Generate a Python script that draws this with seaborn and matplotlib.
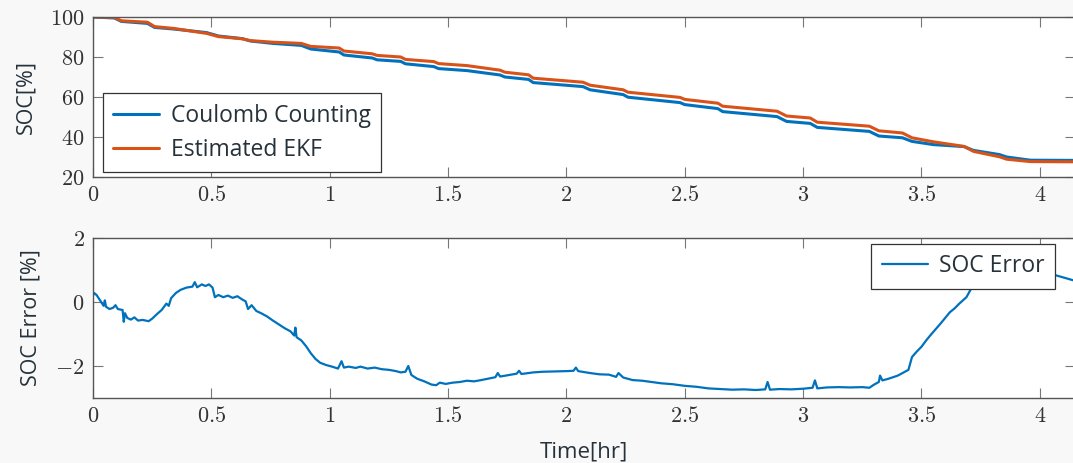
import numpy as np
import pandas as pd
import matplotlib
matplotlib.use("Agg")
import matplotlib.pyplot as plt
import matplotlib.ticker as mticker
import seaborn as sns

# SOC curves [%] vs time [hr]
cc_time = [0, 0.09, 0.12, 0.23, 0.26, 0.34, 0.48, 0.53, 0.63, 0.665, 0.76, 0.88, 0.92,
           1.04, 1.06, 1.18, 1.20, 1.30, 1.32, 1.44, 1.46, 1.58, 1.72, 1.74, 1.84, 1.86,
           2.07, 2.10, 2.24, 2.26, 2.48, 2.50, 2.64, 2.66, 2.89, 2.93, 3.03, 3.06, 3.28,
           3.32, 3.42, 3.46, 3.55, 3.68, 3.72, 3.83, 3.86, 3.96, 4.15]
cc_soc = [100, 99.5, 97.8, 96.8, 94.8, 94.0, 92.2, 90.5, 89.2, 88.0, 86.8, 85.8, 84.0,
          82.5, 81.0, 79.5, 78.6, 77.8, 76.6, 75.2, 74.2, 73.2, 71.0, 70.0, 68.8, 67.2,
          65.2, 63.6, 61.2, 59.9, 57.2, 56.2, 54.2, 52.7, 50.2, 47.8, 46.8, 44.8, 42.8,
          40.5, 39.6, 37.8, 36.2, 35.2, 33.3, 31.2, 30.0, 28.4, 28.3]
ekf_soc = [100, 99.8, 98.1, 97.4, 95.2, 94.3, 91.8, 90.2, 89.1, 88.2, 87.4, 86.8, 85.3,
           84.5, 83.0, 81.6, 80.8, 80.0, 78.8, 77.7, 76.7, 75.7, 73.4, 72.4, 71.1, 69.4,
           67.4, 65.9, 63.6, 62.4, 59.8, 58.8, 56.9, 55.4, 52.9, 50.5, 49.5, 47.4, 45.4,
           43.1, 42.0, 39.6, 37.6, 35.3, 32.8, 30.1, 28.9, 27.7, 27.6]

# SOC error [%]
err_time = [0.000, 0.005, 0.015, 0.030, 0.045, 0.050, 0.055, 0.070, 0.085, 0.095, 0.105,
            0.125, 0.130, 0.135, 0.145, 0.160, 0.175, 0.190, 0.210, 0.235, 0.250, 0.270,
            0.290, 0.310, 0.320, 0.330, 0.350, 0.370, 0.395, 0.420, 0.430, 0.440, 0.460,
            0.475, 0.490, 0.505, 0.515, 0.530, 0.550, 0.570, 0.590, 0.610, 0.630, 0.645,
            0.655, 0.670, 0.690, 0.710, 0.735, 0.760, 0.785, 0.810, 0.835, 0.850, 0.855,
            0.860, 0.880, 0.900, 0.920, 0.940, 0.960, 0.985, 1.010, 1.035, 1.050, 1.060,
            1.080, 1.110, 1.130, 1.160, 1.190, 1.220, 1.250, 1.280, 1.300, 1.320, 1.332,
            1.345, 1.370, 1.400, 1.430, 1.450, 1.465, 1.490, 1.520, 1.550, 1.580, 1.610,
            1.640, 1.680, 1.700, 1.710, 1.720, 1.760, 1.790, 1.800, 1.810, 1.860, 1.900,
            1.950, 2.000, 2.030, 2.040, 2.050, 2.100, 2.140, 2.180, 2.210, 2.220, 2.240,
            2.280, 2.320, 2.360, 2.400, 2.450, 2.500, 2.550, 2.600, 2.650, 2.700, 2.750,
            2.800, 2.840, 2.850, 2.860, 2.900, 2.950, 3.000, 3.040, 3.050, 3.060, 3.100,
            3.150, 3.200, 3.250, 3.280, 3.300, 3.320, 3.325, 3.335, 3.360, 3.380, 3.400,
            3.430, 3.445, 3.460, 3.480, 3.500, 3.520, 3.540, 3.560, 3.580, 3.600, 3.620,
            3.640, 3.660, 3.690, 3.720, 3.750, 3.780, 3.820, 3.900, 4.000, 4.065, 4.150]
err_soc = [0.20, 0.28, 0.22, 0.05, -0.12, 0.05, -0.15, -0.22, -0.18, -0.10, -0.22,
           -0.25, -0.62, -0.35, -0.50, -0.55, -0.48, -0.58, -0.56, -0.60, -0.52, -0.38,
           -0.25, -0.05, -0.12, 0.12, 0.28, 0.38, 0.45, 0.48, 0.62, 0.46, 0.55,
           0.50, 0.55, 0.45, 0.15, 0.22, 0.15, 0.20, 0.13, 0.18, 0.08, 0.02,
           -0.22, -0.10, -0.28, -0.35, -0.45, -0.58, -0.70, -0.82, -0.92, -1.05, -0.80,
           -1.10, -1.20, -1.38, -1.60, -1.78, -1.90, -1.97, -2.02, -2.08, -1.85, -2.05,
           -2.02, -2.06, -2.02, -2.08, -2.05, -2.10, -2.12, -2.16, -2.20, -2.18, -2.00,
           -2.28, -2.40, -2.48, -2.58, -2.60, -2.52, -2.56, -2.52, -2.50, -2.46, -2.48,
           -2.44, -2.38, -2.35, -2.22, -2.33, -2.28, -2.24, -2.15, -2.25, -2.20, -2.18,
           -2.17, -2.16, -2.15, -2.05, -2.16, -2.22, -2.26, -2.27, -2.34, -2.22, -2.36,
           -2.44, -2.46, -2.50, -2.54, -2.57, -2.62, -2.65, -2.70, -2.72, -2.74, -2.73,
           -2.75, -2.73, -2.50, -2.74, -2.72, -2.73, -2.71, -2.68, -2.45, -2.70, -2.67,
           -2.66, -2.67, -2.66, -2.68, -2.58, -2.50, -2.30, -2.45, -2.40, -2.35, -2.30,
           -2.18, -2.12, -1.72, -1.55, -1.40, -1.20, -1.02, -0.85, -0.68, -0.50, -0.32,
           -0.20, -0.05, 0.15, 0.55, 0.85, 1.05, 1.10, 1.05, 0.95, 0.84, 0.66]

x_ticks = [0, 0.5, 1, 1.5, 2, 2.5, 3, 3.5, 4]

sns.set_theme(style="ticks")
plt.rcParams["font.family"] = ["Open Sans", "DejaVu Sans"]
plt.rcParams["mathtext.fontset"] = "cm"

blue = "#0072BD"
orange = "#D95319"
txt = "#26323a"
W, H = 1073, 463

fig = plt.figure(figsize=(W / 100, H / 100), dpi=100, facecolor="#f8f8f8")
x0 = 93
xmax = 4.15
x1 = x0 + xmax * 236.7
ax1 = fig.add_axes([x0 / W, 1 - 177 / H, (x1 - x0) / W, 160 / H])
ax2 = fig.add_axes([x0 / W, 1 - 398 / H, (x1 - x0) / W, 160 / H])

df = pd.DataFrame({"t": cc_time, "cc": cc_soc, "ekf": ekf_soc})
sns.lineplot(data=df, x="t", y="cc", ax=ax1, color=blue, lw=2.2,
             label="Coulomb Counting", estimator=None)
sns.lineplot(data=df, x="t", y="ekf", ax=ax1, color=orange, lw=2.2,
             label="Estimated EKF", estimator=None)
sns.lineplot(x=err_time, y=err_soc, ax=ax2, color=blue, lw=1.6,
             label="SOC Error", estimator=None)

fmt = mticker.FuncFormatter(lambda v, p: r"$%g$" % v if v >= 0 else r"$-%g$" % (-v))
for ax in (ax1, ax2):
    ax.set_facecolor("white")
    ax.set_xlim(0, xmax)
    ax.set_xticks(x_ticks)
    ax.xaxis.set_major_formatter(fmt)
    ax.yaxis.set_major_formatter(fmt)
    ax.tick_params(direction="in", length=7, width=0.8, color="#777777",
                   top=True, right=True, labelsize=16, labelcolor="#333333", pad=6)
    for s in ax.spines.values():
        s.set_color("#555555")
        s.set_linewidth(1.0)

ax1.set_ylim(20, 100)
ax1.set_yticks([20, 40, 60, 80, 100])
ax2.set_ylim(-3, 2)
ax2.set_yticks([-2, 0, 2])

ax1.set_xlabel("")
ax2.set_xlabel("Time[hr]", fontsize=16, color=txt, labelpad=10)
ax1.set_ylabel("SOC[%]", fontsize=15.5, color=txt, labelpad=10)
ax2.set_ylabel("SOC Error [%]", fontsize=15.5, color=txt, labelpad=10)
fig.align_ylabels([ax1, ax2])

leg_kw = dict(fontsize=16.5, frameon=True, fancybox=False, framealpha=1,
              edgecolor="#333333", handlelength=2.0, borderpad=0.45,
              labelspacing=0.45, handletextpad=0.5, borderaxespad=0)
l1 = ax1.legend(loc="lower left",
                bbox_to_anchor=((103 - x0) / (x1 - x0), 0.03), **leg_kw)
l2 = ax2.legend(loc="upper right",
                bbox_to_anchor=((1055 - x0) / (x1 - x0), (398 - 244) / 160), **leg_kw)
for lg in (l1, l2):
    lg.get_frame().set_linewidth(0.9)
    for t in lg.get_texts():
        t.set_color(txt)

fig.savefig("out.png", dpi=100, facecolor=fig.get_facecolor())
